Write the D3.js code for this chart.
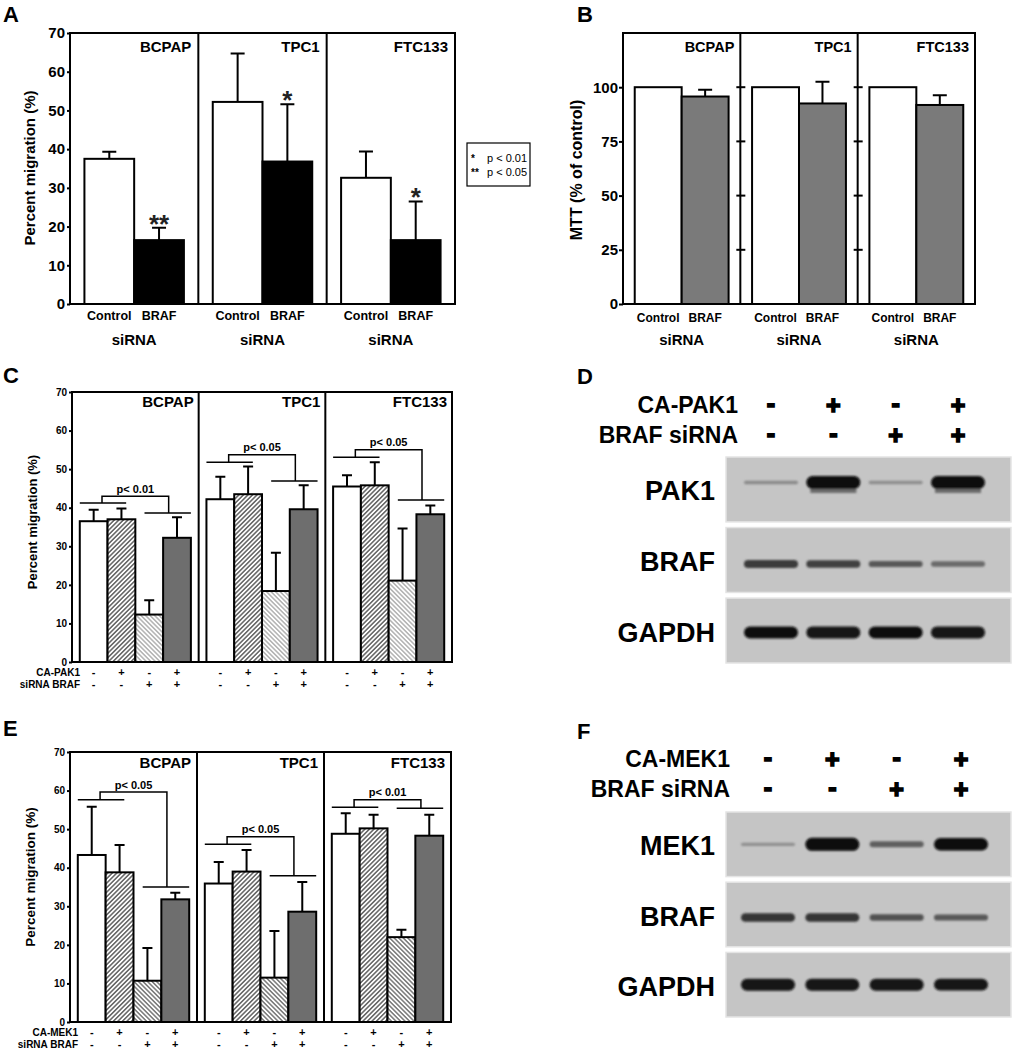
<!DOCTYPE html>
<html>
<head>
<meta charset="utf-8">
<script src="https://cdn.jsdelivr.net/npm/d3@7"></script>
<style>
  body { margin: 0; background: #fff; }
  svg { display: block; }
</style>
</head>
<body>
<div id="canvas"></div>
<script>
const cellLines = ["BCPAP", "TPC1", "FTC133"];

// panel A - migration after BRAF siRNA
const aGroups = ["Control", "BRAF"];
const aMeans = [[37.5, 16.5], [52.2, 36.8], [32.6, 16.5]];
const aErrors = [[1.8, 3.2], [12.5, 14.8], [6.8, 10.0]];
const aStars = [["", "**"], ["", "*"], ["", "*"]];
const aTicks = [0, 10, 20, 30, 40, 50, 60, 70];
const aLegend = [["*", "p < 0.01"], ["**", "p < 0.05"]];

// panel B - MTT
const bMeans = [[100, 95.7], [100, 92.5], [100, 91.8]];
const bErrors = [[0, 3.1], [0, 10.0], [0, 4.5]];
const bTicks = [0, 25, 50, 75, 100];

// panel C - CA-PAK1
const cMeans = [[36.5, 37.0, 12.3, 32.2], [42.2, 43.5, 18.4, 39.6], [45.5, 45.8, 21.1, 38.3]];
const cErrors = [[3.0, 2.8, 3.7, 5.3], [5.8, 7.2, 9.9, 6.2], [2.9, 6.0, 13.5, 2.3]];
const cSigText = ["p< 0.01", "p< 0.05", "p< 0.05"];
const cSigLeft = [41.2, 51.8, 53.1];
const cSigRight = [38.6, 46.9, 42.0];
const cSigTop = [43.0, 53.7, 55.0];

// panel E - CA-MEK1
const eMeans = [[43.3, 38.8, 10.7, 31.8], [35.9, 39.0, 11.5, 28.6], [48.8, 50.2, 22.0, 48.3]];
const eErrors = [[12.5, 7.1, 8.5, 1.7], [5.6, 5.6, 12.1, 7.7], [5.3, 3.5, 1.9, 5.4]];
const eSigText = ["p< 0.05", "p< 0.05", "p< 0.01"];
const eSigLeft = [57.6, 46.1, 55.7];
const eSigRight = [35.0, 37.9, 55.4];
const eSigTop = [59.6, 48.0, 57.6];

const migTicks = [0, 10, 20, 30, 40, 50, 60, 70];
const caRow = ["-", "+", "-", "+"];
const siRow = ["-", "-", "+", "+"];

// blots D and F (band intensity 0..1 per lane)
const dRows = ["PAK1", "BRAF", "GAPDH"];
const dBands = [[0.15, 1.0, 0.13, 0.97], [0.55, 0.5, 0.38, 0.3], [0.92, 0.9, 0.92, 0.9]];
const fRows = ["MEK1", "BRAF", "GAPDH"];
const fBands = [[0.12, 1.0, 0.35, 0.95], [0.6, 0.6, 0.42, 0.38], [0.9, 0.9, 0.9, 0.88]];

const FONT = "'Liberation Sans', Arial, Helvetica, sans-serif";
const width = 1013;
const height = 1050;

const svg = d3
  .select("#canvas")
  .append("svg")
  .attr("width", width)
  .attr("height", height)
  .attr("viewBox", [0, 0, width, height])
  .attr("font-family", FONT);

const defs = svg.append("defs");
function hatch(id, angle, color) {
  const p = defs
    .append("pattern")
    .attr("id", id)
    .attr("patternUnits", "userSpaceOnUse")
    .attr("width", 3.2)
    .attr("height", 3.2)
    .attr("patternTransform", `rotate(${angle})`);
  p.append("rect").attr("width", 3.2).attr("height", 3.2).attr("fill", "#fff");
  p.append("line")
    .attr("x1", 0.8).attr("x2", 0.8)
    .attr("y1", 0).attr("y2", 3.2)
    .attr("stroke", color)
    .attr("stroke-width", 1);
}
hatch("hatchPlus", 45, "#111");
hatch("hatchSiC", -45, "#8a8a8a");
hatch("hatchSiE", -45, "#333");
defs.append("filter").attr("id", "blur")
  .attr("x", "-20%").attr("y", "-100%").attr("width", "140%").attr("height", "300%")
  .append("feGaussianBlur").attr("stdDeviation", 1.1);

function barPanel(o) {
  const g = svg.append("g");
  const y = d3.scaleLinear(o.domain, [o.bottom, o.top]);
  const fx = d3.scaleBand(cellLines, [o.left, o.right]);
  const bx = d3
    .scaleBand(d3.range(o.means[0].length), [0, fx.bandwidth()])
    .paddingOuter(o.pad);
  const bw = bx.bandwidth();

  cellLines.forEach((c, i) => {
    const f = g.append("g").attr("transform", `translate(${fx(c)},0)`);
    const rows = o.means[i].map((m, j) => ({ m, e: o.errors[i][j], j }));

    f.selectAll("rect")
      .data(rows)
      .join("rect")
      .attr("x", (d) => bx(d.j))
      .attr("y", (d) => y(d.m))
      .attr("width", bw)
      .attr("height", (d) => y(0) - y(d.m))
      .attr("fill", (d) => o.fills[d.j])
      .attr("stroke", "#000")
      .attr("stroke-width", o.sw);

    f.selectAll("path.err")
      .data(rows.filter((d) => d.e > 0))
      .join("path")
      .attr("class", "err")
      .attr("d", (d) => {
        const cx = bx(d.j) + bw / 2;
        const y1 = y(d.m + d.e);
        return `M${cx},${y(d.m)}V${y1}M${cx - o.cap / 2},${y1}H${cx + o.cap / 2}`;
      })
      .attr("fill", "none")
      .attr("stroke", "#000")
      .attr("stroke-width", o.sw);

    f.append("text")
      .attr("x", fx.bandwidth() - o.titleInset)
      .attr("y", o.titleY)
      .attr("text-anchor", "end")
      .attr("font-size", o.titleSize)
      .attr("font-weight", "bold")
      .text(c);
  });

  // frame + facet dividers
  g.append("rect")
    .attr("x", o.left)
    .attr("y", o.top)
    .attr("width", o.right - o.left)
    .attr("height", o.bottom - o.top)
    .attr("fill", "none")
    .attr("stroke", "#000")
    .attr("stroke-width", o.sw);
  g.selectAll("line.div")
    .data(cellLines.slice(1))
    .join("line")
    .attr("class", "div")
    .attr("x1", (d) => fx(d))
    .attr("x2", (d) => fx(d))
    .attr("y1", o.top)
    .attr("y2", o.bottom)
    .attr("stroke", "#000")
    .attr("stroke-width", o.sw);

  const ax = g
    .append("g")
    .attr("transform", `translate(${o.left},0)`)
    .call(d3.axisLeft(y).tickValues(o.ticks).tickSize(o.tickSize).tickPadding(o.tickPad))
    .attr("font-family", FONT)
    .attr("font-size", o.tickFont)
    .attr("font-weight", "bold");
  ax.select(".domain").remove();
  ax.selectAll(".tick line").attr("stroke-width", o.sw);

  g.append("text")
    .attr("transform", `translate(${o.yTitleX},${o.yTitleY}) rotate(-90)`)
    .attr("text-anchor", "middle")
    .attr("font-size", o.yTitleSize)
    .attr("font-weight", "bold")
    .text(o.yTitle);

  return { g, y, fx, bx, bw };
}

function siRnaLabels(p, o) {
  cellLines.forEach((c) => {
    p.g.selectAll(null)
      .data(aGroups)
      .join("text")
      .attr("x", (d, j) => p.fx(c) + p.bx(j) + p.bw / 2)
      .attr("y", o.groupY)
      .attr("text-anchor", "middle")
      .attr("font-size", o.groupSize)
      .attr("font-weight", "bold")
      .text((d) => d);
    p.g.append("text")
      .attr("x", p.fx(c) + p.fx.bandwidth() / 2)
      .attr("y", o.siY)
      .attr("text-anchor", "middle")
      .attr("font-size", o.siSize)
      .attr("font-weight", "bold")
      .text("siRNA");
  });
}

function conditionRows(p, names, rowY) {
  [caRow, siRow].forEach((row, k) => {
    p.g.append("text")
      .attr("x", p.fx.range()[0] + 8)
      .attr("y", rowY[k])
      .attr("text-anchor", "end")
      .attr("font-size", 10)
      .attr("font-weight", "bold")
      .text(names[k]);
    cellLines.forEach((c) => {
      p.g.selectAll(null)
        .data(row)
        .join("text")
        .attr("x", (d, j) => p.fx(c) + p.bx(j) + p.bw / 2)
        .attr("y", rowY[k])
        .attr("text-anchor", "middle")
        .attr("font-size", 11)
        .attr("font-weight", "bold")
        .text((d) => d);
    });
  });
}

function sigBrackets(p, texts, lefts, rights, tops) {
  cellLines.forEach((c, i) => {
    const ox = p.fx(c);
    const w = p.bw;
    const l0 = ox + p.bx(0);
    const l1 = ox + p.bx(1) + 0.67 * w;
    const r0 = ox + p.bx(2) + 0.33 * w;
    const r1 = ox + p.bx(3) + w;
    const kL = ox + p.bx(0) + 0.8 * w;
    const kR = ox + p.bx(3) + 0.2 * w;
    const yl = p.y(lefts[i]);
    const yr = p.y(rights[i]);
    const yt = p.y(tops[i]);
    p.g.append("path")
      .attr("d", `M${l0},${yl}H${l1}M${r0},${yr}H${r1}M${kL},${yl}V${yt}H${kR}V${yr}`)
      .attr("fill", "none")
      .attr("stroke", "#000")
      .attr("stroke-width", 1.5);
    p.g.append("text")
      .attr("x", (kL + kR) / 2)
      .attr("y", yt - 3.5)
      .attr("text-anchor", "middle")
      .attr("font-size", 11)
      .attr("font-weight", "bold")
      .text(texts[i]);
  });
}

function blotPanel(o) {
  const g = svg.append("g");
  const lanes = d3.scalePoint(d3.range(4), o.laneRange);
  const rowY = d3.scaleBand(o.rows, [o.top, o.bottom]).paddingInner(0.08);
  const bandH = d3.scaleLinear([0, 1], [2, 13]);
  const bandC = d3.scaleLinear([0, 0.5, 1], ["#a8a8a8", "#404040", "#070707"]);

  [caRow, siRow].forEach((row, k) => {
    g.append("text")
      .attr("x", o.headRight)
      .attr("y", o.headY[k])
      .attr("text-anchor", "end")
      .attr("font-size", 23)
      .attr("font-weight", "bold")
      .text(o.heads[k]);
    g.selectAll(null)
      .data(row)
      .join("text")
      .attr("x", (d, j) => lanes(j))
      .attr("y", (d) => o.headY[k] + (d === "+" ? 1 : -1))
      .attr("text-anchor", "middle")
      .attr("font-size", 25)
      .attr("font-weight", "bold")
      .attr("stroke", "#000")
      .attr("stroke-width", 1.6)
      .text((d) => d);
  });

  o.rows.forEach((r, i) => {
    const y0 = rowY(r);
    const h = rowY.bandwidth();
    g.append("rect")
      .attr("x", o.boxLeft)
      .attr("y", y0)
      .attr("width", o.boxRight - o.boxLeft)
      .attr("height", h)
      .attr("fill", "#c5c5c5")
      .attr("stroke", "#e4e4e4")
      .attr("stroke-width", 1.5);
    g.append("text")
      .attr("x", o.labelRight)
      .attr("y", y0 + h / 2 + 11)
      .attr("text-anchor", "end")
      .attr("font-size", 27)
      .attr("font-weight", "bold")
      .text(r);
    const cy = y0 + h / 2 + o.bandShift[i];
    const bg = g.append("g").attr("filter", "url(#blur)");
    // smear under the strongest over-expressed bands
    if (o.smear[i]) {
      bg.selectAll("rect.smear")
        .data(o.bands[i].map((d, j) => ({ d, j })).filter((e) => e.d > 0.9))
        .join("rect")
        .attr("class", "smear")
        .attr("x", (e) => lanes(e.j) - o.bandW / 2 + 4)
        .attr("y", cy + bandH(1) / 2 - 2)
        .attr("width", o.bandW - 8)
        .attr("height", 6)
        .attr("fill", "#6a6a6a");
    }
    bg.selectAll("rect.band")
      .data(o.bands[i])
      .join("rect")
      .attr("class", "band")
      .attr("x", (d, j) => lanes(j) - o.bandW / 2)
      .attr("y", (d) => cy - bandH(d) / 2)
      .attr("width", o.bandW)
      .attr("height", (d) => bandH(d))
      .attr("rx", (d) => bandH(d) / 2)
      .attr("fill", (d) => bandC(d));
  });
}

function panelLetter(t, x, y) {
  svg.append("text")
    .attr("x", x)
    .attr("y", y)
    .attr("font-size", 22)
    .attr("font-weight", "bold")
    .text(t);
}

// ---- A
const pA = barPanel({
  means: aMeans, errors: aErrors, fills: ["#fff", "#000"],
  domain: [0, 70], ticks: aTicks,
  left: 70, right: 455, top: 33, bottom: 304,
  pad: 0.29, sw: 2, cap: 14,
  tickSize: 3, tickPad: 2, tickFont: 15,
  titleInset: 7, titleY: 52, titleSize: 15,
  yTitle: "Percent migration (%)", yTitleX: 35, yTitleY: 168, yTitleSize: 15,
});
siRnaLabels(pA, { groupY: 320, groupSize: 12.5, siY: 345, siSize: 15 });
cellLines.forEach((c, i) => {
  pA.g.selectAll(null)
    .data(aStars[i])
    .join("text")
    .attr("x", (d, j) => pA.fx(c) + pA.bx(j) + pA.bw / 2)
    .attr("y", (d, j) => pA.y(aMeans[i][j] + aErrors[i][j]) + 5)
    .attr("text-anchor", "middle")
    .attr("font-size", 26)
    .attr("font-weight", "bold")
    .attr("fill", "#222")
    .text((d) => d);
});
const leg = svg.append("g");
leg.append("rect")
  .attr("x", 467).attr("y", 143).attr("width", 63).attr("height", 43)
  .attr("fill", "none").attr("stroke", "#000").attr("stroke-width", 1.2);
leg.selectAll("g")
  .data(aLegend)
  .join("g")
  .attr("transform", (d, i) => `translate(0,${162 + i * 14})`)
  .call((s) => {
    s.append("text").attr("x", 471).attr("font-size", 10).attr("font-weight", "bold").text((d) => d[0]);
    s.append("text").attr("x", 487).attr("font-size", 11).text((d) => d[1]);
  });

// ---- B
const pB = barPanel({
  means: bMeans, errors: bErrors, fills: ["#fff", "#7a7a7a"],
  domain: [0, 125], ticks: bTicks,
  left: 623, right: 975, top: 33, bottom: 304,
  pad: 0.25, sw: 2, cap: 14,
  tickSize: 4, tickPad: 1, tickFont: 15,
  titleInset: 6, titleY: 52, titleSize: 14.5,
  yTitle: "MTT (% of control)", yTitleX: 582, yTitleY: 170, yTitleSize: 16,
});
siRnaLabels(pB, { groupY: 322, groupSize: 12, siY: 345, siSize: 15 });
cellLines.slice(1).forEach((c) => {
  pB.g.selectAll(null)
    .data(bTicks.slice(1))
    .join("line")
    .attr("x1", pB.fx(c) - 4)
    .attr("x2", pB.fx(c) + 5)
    .attr("y1", (d) => pB.y(d))
    .attr("y2", (d) => pB.y(d))
    .attr("stroke", "#000")
    .attr("stroke-width", 2);
});

// ---- C
const pC = barPanel({
  means: cMeans, errors: cErrors, fills: ["#fff", "url(#hatchPlus)", "url(#hatchSiC)", "#6e6e6e"],
  domain: [0, 70], ticks: migTicks,
  left: 72, right: 452, top: 392, bottom: 662,
  pad: 0.28, sw: 2, cap: 10,
  tickSize: 3, tickPad: 2, tickFont: 10,
  titleInset: 5, titleY: 407, titleSize: 15,
  yTitle: "Percent migration (%)", yTitleX: 37, yTitleY: 522, yTitleSize: 13,
});
sigBrackets(pC, cSigText, cSigLeft, cSigRight, cSigTop);
conditionRows(pC, ["CA-PAK1", "siRNA BRAF"], [676, 688]);

// ---- E
const pE = barPanel({
  means: eMeans, errors: eErrors, fills: ["#fff", "url(#hatchPlus)", "url(#hatchSiE)", "#6e6e6e"],
  domain: [0, 70], ticks: migTicks,
  left: 70, right: 451, top: 752, bottom: 1022,
  pad: 0.28, sw: 2, cap: 10,
  tickSize: 3, tickPad: 2, tickFont: 10,
  titleInset: 6, titleY: 768, titleSize: 15,
  yTitle: "Percent migration (%)", yTitleX: 35, yTitleY: 877, yTitleSize: 13.5,
});
sigBrackets(pE, eSigText, eSigLeft, eSigRight, eSigTop);
conditionRows(pE, ["CA-MEK1", "siRNA BRAF"], [1036, 1048]);

// ---- D and F
blotPanel({
  heads: ["CA-PAK1", "BRAF siRNA"], headRight: 738, headY: [413, 443],
  laneRange: [771, 958], rows: dRows, bands: dBands, bandW: 54,
  top: 457, bottom: 663, boxLeft: 726, boxRight: 1011,
  labelRight: 715, bandShift: [-7, 4, 2], smear: [true, false, false],
});
blotPanel({
  heads: ["CA-MEK1", "BRAF siRNA"], headRight: 730, headY: [767, 797],
  laneRange: [768, 961], rows: fRows, bands: fBands, bandW: 54,
  top: 812, bottom: 1017, boxLeft: 726, boxRight: 1011,
  labelRight: 715, bandShift: [0, 3, 0], smear: [false, false, false],
});

panelLetter("A", 3, 22);
panelLetter("B", 577, 22);
panelLetter("C", 3, 383);
panelLetter("D", 577, 384);
panelLetter("E", 3, 736);
panelLetter("F", 577, 739);
</script>
</body>
</html>
